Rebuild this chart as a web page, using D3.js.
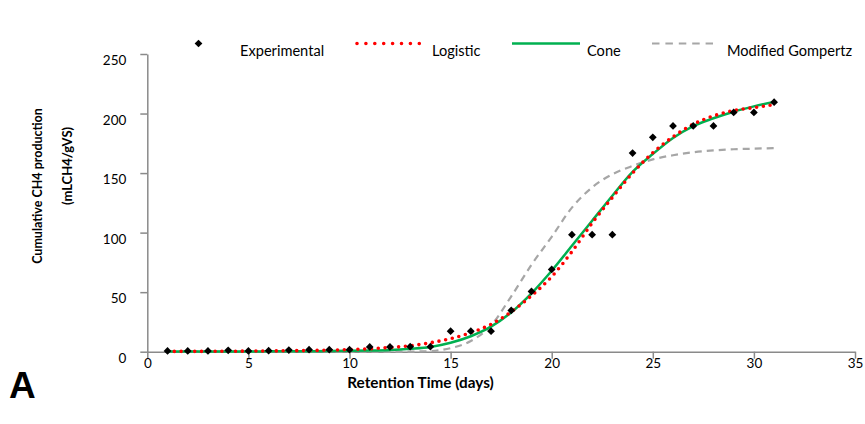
<!DOCTYPE html>
<html>
<head>
<meta charset="utf-8">
<script src="https://cdn.jsdelivr.net/npm/d3@7"></script>
<style>
  html, body { margin: 0; padding: 0; background: #fff; }
  svg { display: block; }
  text { font-family: Lato, "Open Sans", sans-serif; fill: #000; }
</style>
</head>
<body>
<svg id="chart" width="865" height="424"></svg>
<script>
// ---- Data ----
const days = [1,2,3,4,5,6,7,8,9,10,11,12,13,14,15,16,17,18,19,20,21,22,23,24,25,26,27,28,29,30,31];
const experimental = [0.6,0.6,0.6,1.2,0.6,0.8,1.4,1.7,1.7,1.7,4.0,4.0,4.2,4.2,17.2,17.2,17.2,34.7,50.6,69.1,98.3,98.3,98.3,166.8,180,189.6,189.6,189.6,200.9,200.9,209.5];
const logistic = [0.2,0.3,0.3,0.4,0.5,0.6,0.8,1.0,1.3,1.8,2.5,3.5,5,7.5,11,16,23,33.5,47,63,84,108,129.5,150,167,180.5,191,198,202.5,205,207.5];
const cone = [0.2,0.2,0.2,0.2,0.2,0.3,0.3,0.4,0.5,0.7,1.0,1.5,2.5,4,7.5,13,21,33,49,68,89,110,131,151,166,179.5,189.5,196,201.5,206,209.8];
const gompertz = [0,0,0,0,0,0,0,0,0,0,0,0,0.1,0.5,3,9,22,46.5,73,96.5,121,138,149,156,161.5,165,167.5,169,170,170.5,171];
const xTicks = [0,5,10,15,20,25,30,35];
const yTicks = [0,50,100,150,200,250];
const legendLabels = ["Experimental","Logistic","Cone","Modified Gompertz"];
const xTitle = "Retention Time (days)";
const yTitle1 = "Cumulative CH4 production";
const yTitle2 = "(mLCH4/gVS)";
const panelLabel = "A";

// ---- Layout ----
const svg = d3.select("#chart");
const x = d3.scaleLinear().domain([0,35]).range([147.3,855]);
const y = d3.scaleLinear().domain([0,250]).range([351.7,54]);
const axisColor = "#8a8a8a";

// Y axis
const yAxis = svg.append("g").attr("transform", `translate(${x(0)},0)`)
  .call(d3.axisLeft(y).tickValues(yTicks).tickSize(7).tickSizeOuter(0).tickPadding(14));
yAxis.select(".domain").attr("stroke", axisColor).attr("stroke-width", 1.5);
yAxis.selectAll(".tick line").attr("stroke", axisColor).attr("stroke-width", 1.5);
yAxis.selectAll(".tick text").attr("font-size", 13.5).attr("dy", "0.8em").style("font-family","Lato");

// X axis
const xAxis = svg.append("g").attr("transform", `translate(0,${y(0)})`)
  .call(d3.axisBottom(x).tickValues(xTicks).tickSize(7).tickSizeOuter(0).tickPadding(0));
xAxis.select(".domain").attr("stroke", axisColor).attr("stroke-width", 1.5);
xAxis.selectAll(".tick line").attr("stroke", axisColor).attr("stroke-width", 1.5);
xAxis.selectAll(".tick text").attr("font-size", 13.5).style("font-family","Lato");

// Lines
const lineGen = vals => d3.line()
  .x((d,i) => x(days[i]))
  .y(d => y(d))
  .curve(d3.curveMonotoneX)(vals);

svg.append("path").attr("d", lineGen(gompertz))
  .attr("fill","none").attr("stroke","#a6a6a6").attr("stroke-width",2.2)
  .attr("stroke-dasharray","7,5");
svg.append("path").attr("d", lineGen(cone))
  .attr("fill","none").attr("stroke","#00b050").attr("stroke-width",2.5);
svg.append("path").attr("d", lineGen(logistic))
  .attr("fill","none").attr("stroke","#ff0000").attr("stroke-width",3.6)
  .attr("stroke-linecap","round").attr("stroke-dasharray","0,6.8");

// Experimental points (diamonds)
const diamond = d3.symbol().type(d3.symbolSquare).size(30);
svg.append("g").selectAll("path").data(experimental).join("path")
  .attr("d", diamond)
  .attr("transform", (d,i) => `translate(${x(days[i])},${y(d)}) rotate(45)`)
  .attr("fill","#000");

// Legend
const lg = svg.append("g");
const lfs = 14.6;
lg.append("path").attr("d", diamond).attr("transform","translate(198.5,43.5) rotate(45)").attr("fill","#000");
lg.append("text").attr("x",240).attr("y",56).attr("font-size",lfs).text(legendLabels[0]);
lg.append("line").attr("x1",357).attr("x2",420).attr("y1",43.5).attr("y2",43.5)
  .attr("stroke","#ff0000").attr("stroke-width",3.6).attr("stroke-linecap","round").attr("stroke-dasharray","0,8.9");
lg.append("text").attr("x",432).attr("y",56).attr("font-size",lfs).text(legendLabels[1]);
lg.append("line").attr("x1",512).attr("x2",580).attr("y1",43.5).attr("y2",43.5)
  .attr("stroke","#00b050").attr("stroke-width",2.5);
lg.append("text").attr("x",587).attr("y",56).attr("font-size",lfs).text(legendLabels[2]);
lg.append("line").attr("x1",652).attr("x2",713).attr("y1",43.5).attr("y2",43.5)
  .attr("stroke","#a6a6a6").attr("stroke-width",2.2).attr("stroke-dasharray","7.5,5.9");
lg.append("text").attr("x",727).attr("y",56).attr("font-size",lfs).text(legendLabels[3]);

// Titles
svg.append("text").attr("x",420.5).attr("y",388).attr("text-anchor","middle")
  .attr("font-size",15.3).attr("font-weight","bold").text(xTitle);
svg.append("text").attr("transform","translate(42,186) rotate(-90)").attr("text-anchor","middle")
  .attr("font-size",12.5).attr("font-weight","bold").text(yTitle1);
svg.append("text").attr("transform","translate(72,166) rotate(-90)").attr("text-anchor","middle")
  .attr("font-size",13).attr("font-weight","bold").text(yTitle2);

// Panel label
svg.append("text").attr("x",9).attr("y",398).attr("font-size",37).attr("font-weight","bold")
  .style("font-family","Liberation Sans, Arial, sans-serif").text(panelLabel);
</script>
</body>
</html>
